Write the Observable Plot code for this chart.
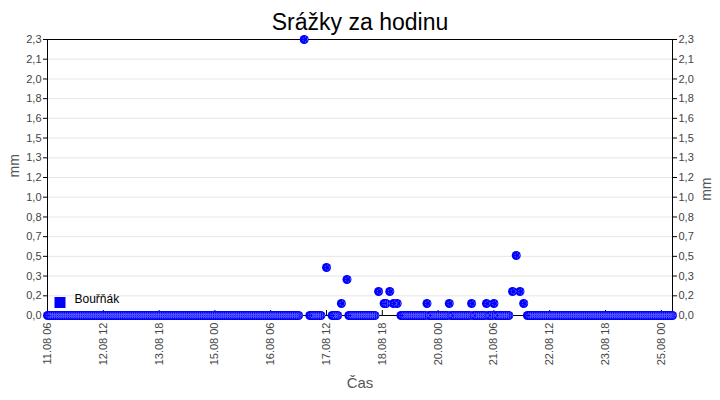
<!DOCTYPE html>
<html lang="cs">
<head>
<meta charset="UTF-8">
<title>Srážky za hodinu</title>
<style>
  body { margin: 0; background: #fff; }
  #chart { width: 720px; height: 400px; }
  #chart svg { font-family: "Liberation Sans", Arial, sans-serif; }
  #chart g[aria-label$="tick label"] { fill: #444; }
</style>
<script src="https://cdn.jsdelivr.net/npm/d3@7"></script>
<script src="https://cdn.jsdelivr.net/npm/@observablehq/plot@0.6"></script>
</head>
<body>
<div id="chart"></div>
<script>
// hourly precipitation (mm), first reading 11.08 06:00, null = no reading
const seriesName = "Bouřňák";
const firstHour = "2014-08-11T06:00Z";
const mm = [
  0,0,0,0,0,0,0,0,0,0,0,0,0,0,0,0,0,0,0,0,0,0,0,0,
  0,0,0,0,0,0,0,0,0,0,0,0,0,0,0,0,0,0,0,0,0,0,0,0,
  0,0,0,0,0,0,0,0,0,0,0,0,0,0,0,0,0,0,0,0,0,0,0,0,
  0,0,0,0,0,0,0,0,0,0,0,0,0,0,0,0,0,0,0,0,0,0,0,0,
  0,0,0,0,0,0,0,0,0,0,0,0,0,0,0,0,0,0,0,0,0,0,0,0,
  0,0,0,0,0,0,0,0,0,0,0,0,0,0,0,0,null,null,2.3,null,null,0,0,0,
  0,0,0,0,null,null,0.4,null,null,0,0,0,0,null,0.1,null,null,0.3,0,0,0,0,0,0,
  0,0,0,0,0,0,0,0,0,null,0.2,null,null,0.1,0.1,null,0.2,null,0.1,null,0.1,null,0,0,
  0,0,0,0,0,0,0,0,0,0,0,0,0.1,0,0,0,0,0,0,0,0,0,0,0,
  0.1,0,0,0,0,0,0,0,0,0,0,0,0.1,0,0,0,0,0,0,0,0.1,0,0,0,
  0.1,0,0,0,0,0,0,0,0,null,0.2,null,0.5,null,0.2,null,0.1,null,0,0,0,0,0,0,
  0,0,0,0,0,0,0,0,0,0,0,0,0,0,0,0,0,0,0,0,0,0,0,0,
  0,0,0,0,0,0,0,0,0,0,0,0,0,0,0,0,0,0,0,0,0,0,0,0,
  0,0,0,0,0,0,0,0,0,0,0,0,0,0,0,0,0,0,0,0,0,0,0,0,
  0
];
const xDomain = ["2014-08-11T06:00Z", "2014-08-25T06:00Z"];
const xTicks = [
  "2014-08-11T06:00Z", "2014-08-12T12:00Z", "2014-08-13T18:00Z", "2014-08-15T00:00Z",
  "2014-08-16T06:00Z", "2014-08-17T12:00Z", "2014-08-18T18:00Z", "2014-08-20T00:00Z",
  "2014-08-21T06:00Z", "2014-08-22T12:00Z", "2014-08-23T18:00Z", "2014-08-25T00:00Z"
];
const yTicks = [0, 0.164, 0.329, 0.493, 0.657, 0.821, 0.986, 1.15, 1.314, 1.479, 1.643, 1.807, 1.971, 2.136, 2.3];
const yLabels = ["0,0", "0,2", "0,3", "0,5", "0,7", "0,8", "1,0", "1,2", "1,3", "1,5", "1,6", "1,8", "2,0", "2,1", "2,3"];

const t0 = new Date(firstHour);
const rows = mm.map((v, i) => ({time: new Date(+t0 + i * 3600e3), mm: v}));
const ticksX = xTicks.map(d => new Date(d));
const fmtX = d3.utcFormat("%d.%m %H");
const fmtY = d => yLabels[yTicks.indexOf(d)];

const plot = Plot.plot({
  width: 720,
  height: 400,
  marginLeft: 47,
  marginRight: 48,
  marginTop: 39,
  marginBottom: 85,
  style: {background: "#fff", color: "#000", fontSize: "11px"},
  x: {type: "utc", domain: xDomain.map(d => new Date(d))},
  y: {domain: [0, 2.3]},
  marks: [
    Plot.gridY(yTicks, {stroke: "#e6e6e6", strokeOpacity: 1}),
    Plot.frame({stroke: "#000"}),
    Plot.axisY(yTicks, {anchor: "left", tickFormat: fmtY, tickSize: 4, tickPadding: 2, label: null}),
    Plot.axisY(yTicks, {anchor: "right", tickFormat: fmtY, tickSize: 4, tickPadding: 2, label: null}),
    Plot.axisX(ticksX, {tickFormat: fmtX, tickRotate: -90, tickSize: -5, tickPadding: 12, label: null}),
    Plot.dot(rows, {x: "time", y: "mm", r: 4.5, fill: "#0000ff"}),
    Plot.dot(rows, {x: "time", y: "mm", r: 2.4, dx: 1, fill: "none", stroke: "#fff", strokeOpacity: 0.7, strokeWidth: 0.7, strokeDasharray: "1,1.5"}),
    // legend
    Plot.dot([seriesName], {frameAnchor: "bottom-left", dx: 12.5, dy: -13, symbol: "square", r: 6.2, fill: "#0000ff"}),
    Plot.text([seriesName], {frameAnchor: "bottom-left", dx: 27, dy: -13, textAnchor: "start", fontSize: 12, fill: "#000"}),
    // titles
    Plot.text(["Srážky za hodinu"], {frameAnchor: "top", lineAnchor: "middle", dy: -17, fontSize: 23, fill: "#000"}),
    Plot.text(["mm"], {frameAnchor: "left", dx: -33, rotate: -90, fontSize: 14, fill: "#555"}),
    Plot.text(["mm"], {frameAnchor: "right", dx: 34, rotate: -90, fontSize: 14, fill: "#555"}),
    Plot.text(["Čas"], {frameAnchor: "bottom", lineAnchor: "middle", dy: 68, fontSize: 15, fill: "#555"})
  ]
});

document.getElementById("chart").appendChild(plot);
</script>
</body>
</html>
